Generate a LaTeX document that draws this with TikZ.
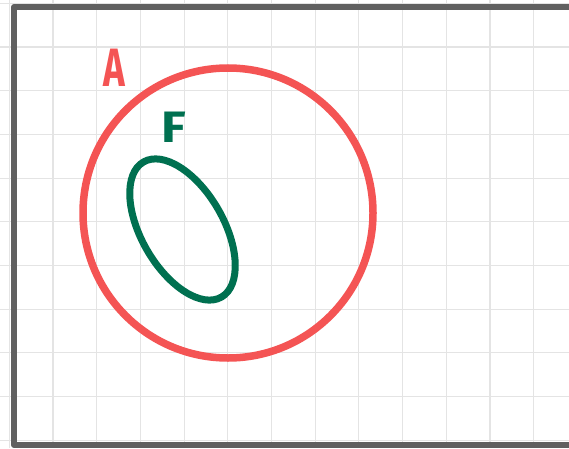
\documentclass[tikz,border=0pt]{standalone}
\usepackage{fontspec}
\newfontfamily\handfont{Fira Sans}
\definecolor{setred}{RGB}{244,84,84}
\definecolor{setgreen}{RGB}{0,112,80}
\definecolor{framegray}{RGB}{96,96,96}
\definecolor{gridgray}{RGB}{228,228,228}
\tikzset{
    gridline/.style={color=gridgray, line width=1.1pt},
    frameline/.style={color=framegray, line width=6pt, line cap=round, line join=round},
    setlabel/.style={font=\handfont\bfseries\fontsize{54}{54}\selectfont, inner sep=0pt}
}

\begin{document}
\begin{tikzpicture}[x=1pt,y=1pt]
        \useasboundingbox (0,0) rectangle (569,448);
        % grid
            \foreach \i in {0,...,12} \draw [gridline] (9.3+43.7*\i,0) -- ++(0,448);
            \foreach \j in {0,...,10} \draw [gridline] (0,444.7-43.7*\j) -- ++(569,0);
        % frame
            \draw [frameline] (572,441) -- (14,441) -- (14,3) -- (572,3);
        % circle
            \draw [color=setred, line width=7.5pt] (228,235) circle (145);
        % ellipse
            \draw [color=setgreen, line width=7pt, rotate around={-60:(182.5,218.5)}] (182.5,218.5) ellipse (78 and 41);
        % labels
            \node [setlabel, text=setred, xscale=0.68] (labA) at (114,380) {A};
            \node [setlabel, text=setgreen, font=\handfont\bfseries\fontsize{44}{44}\selectfont, xscale=1.15] (labF) at (174,321) {F};
    \end{tikzpicture}
\end{document}
